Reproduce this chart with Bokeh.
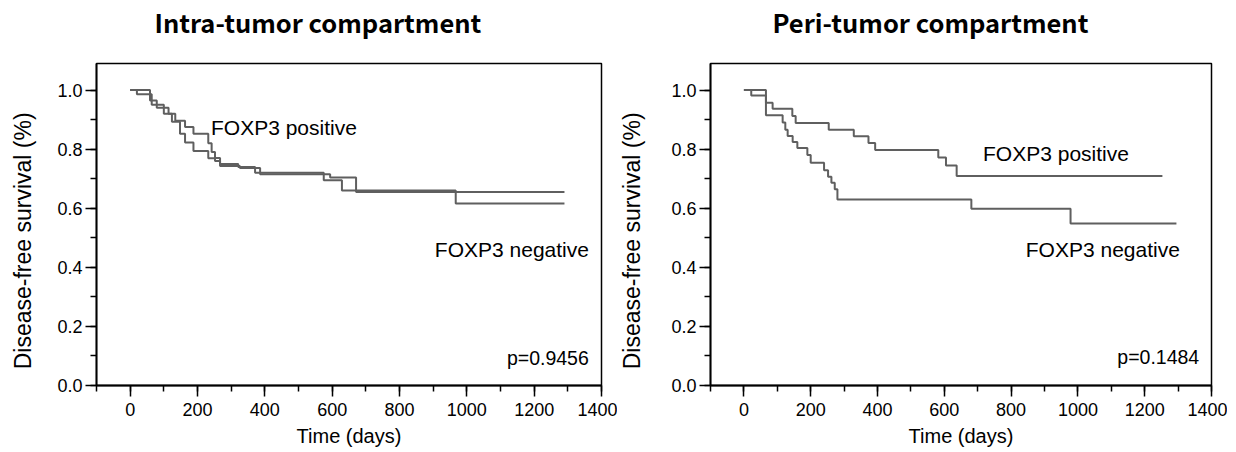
import math
from bokeh.plotting import figure
from bokeh.layouts import row, column
from bokeh.models import Label, SingleIntervalTicker, PrintfTickFormatter, Range1d
from bokeh.core.properties import value
from bokeh.embed import file_html
from bokeh.resources import INLINE

# ---- data ----
titles = ["Intra-tumor compartment", "Peri-tumor compartment"]
p_values = ["p=0.9456", "p=0.1484"]
group_labels = ["FOXP3 positive", "FOXP3 negative"]
x_label = "Time (days)"
y_label = "Disease-free survival (%)"

left_pos_t = [0, 59, 79, 114, 134, 163, 188, 232, 242, 252, 267, 326, 386, 594, 671, 1290]
left_pos_s = [1.0, 0.965, 0.94, 0.92, 0.896, 0.875, 0.852, 0.82, 0.79, 0.77, 0.743, 0.736, 0.715, 0.704, 0.655, 0.655]
left_neg_t = [0, 20, 64, 100, 124, 148, 163, 188, 232, 252, 267, 321, 371, 575, 629, 967, 1290]
left_neg_s = [1.0, 0.986, 0.95, 0.92, 0.893, 0.852, 0.823, 0.794, 0.769, 0.76, 0.75, 0.74, 0.72, 0.695, 0.66, 0.616, 0.616]

right_pos_t = [0, 66, 86, 145, 155, 254, 329, 373, 393, 582, 605, 637, 1253]
right_pos_s = [1.0, 0.957, 0.937, 0.912, 0.889, 0.866, 0.844, 0.821, 0.797, 0.772, 0.745, 0.709, 0.709]
right_neg_t = [0, 22, 66, 116, 124, 131, 146, 160, 190, 200, 240, 252, 262, 272, 280, 681, 978, 1295]
right_neg_s = [1.0, 0.982, 0.915, 0.89, 0.866, 0.845, 0.824, 0.804, 0.78, 0.754, 0.729, 0.707, 0.686, 0.664, 0.63, 0.598, 0.548, 0.548]

# label anchor positions (data units)
left_label_pos = [(240, 0.872), (905, 0.462)]
right_label_pos = [(716, 0.784), (844, 0.462)]
pval_pos = [(1119, 0.093), (1118, 0.096)]

X_START, X_END = -100, 1400
Y_START, Y_END = 0, 1.09

FONT = "Liberation Sans"
LINE_COLOR = "#5f5f5f"

TOTAL_W = 1227
TITLE_H = 58
PLOT_TOP = 5
FRAME_H = 322
PLOT_BOTTOM = 67
PLOT_H = PLOT_TOP + FRAME_H + PLOT_BOTTOM
YLAB_W = 40


def blank_fig(w, h):
    f = figure(width=w, height=h, x_range=Range1d(0, w), y_range=Range1d(h, 0),
               x_axis_type=None, y_axis_type=None, output_backend="svg",
               toolbar_location=None, min_border=0, min_border_left=0,
               min_border_right=0, min_border_top=0, min_border_bottom=0)
    f.outline_line_color = None
    f.xgrid.visible = False
    f.ygrid.visible = False
    f.background_fill_color = "white"
    f.border_fill_color = "white"
    return f


# title strip
title_fig = blank_fig(TOTAL_W, TITLE_H)
title_fig.text(x=[154, 772], y=[21, 21], text=titles,
               text_font=value("Noto Sans CJK JP"), text_font_style="bold",
               text_font_size="25.5px", text_color="black",
               text_align="left", text_baseline="alphabetic")


def ylabel_fig(cx):
    f = blank_fig(YLAB_W, PLOT_H)
    f.text(x=[cx], y=[217], text=[y_label], angle=math.pi / 2,
           text_font=value(FONT), text_font_size="23px", text_color="black",
           text_align="center", text_baseline="middle")
    return f


def make_panel(pos_t, pos_s, neg_t, neg_s, label_pos, pval, pv_pos,
               border_left, frame_w):
    p = figure(width=border_left + frame_w + 16, height=PLOT_H,
               frame_width=frame_w, frame_height=FRAME_H,
               x_range=(X_START, X_END), y_range=(Y_START, Y_END),
               output_backend="svg", toolbar_location=None,
               min_border_left=border_left, min_border_right=16,
               min_border_top=PLOT_TOP, min_border_bottom=PLOT_BOTTOM)
    p.xgrid.visible = False
    p.ygrid.visible = False
    p.outline_line_color = "black"
    p.outline_line_width = 1.5
    p.background_fill_color = "white"
    p.border_fill_color = "white"

    p.xaxis.ticker = SingleIntervalTicker(interval=200, num_minor_ticks=2)
    p.yaxis.ticker = SingleIntervalTicker(interval=0.2, num_minor_ticks=2)
    p.yaxis.formatter = PrintfTickFormatter(format="%.1f")

    for ax in (p.xaxis[0], p.yaxis[0]):
        ax.axis_line_color = "black"
        ax.axis_line_width = 1.8
        ax.major_tick_line_color = "black"
        ax.minor_tick_line_color = "black"
        ax.major_tick_line_width = 1.5
        ax.minor_tick_line_width = 1.5
        ax.major_tick_in = 0
        ax.minor_tick_in = 0
        ax.major_tick_out = 11
        ax.minor_tick_out = 6
        ax.major_label_text_font = FONT
        ax.major_label_text_font_size = "18px"
        ax.major_label_text_color = "black"
        ax.axis_label_text_font = FONT
        ax.axis_label_text_font_style = "normal"
        ax.axis_label_text_color = "black"
    p.xaxis.axis_label = x_label
    p.xaxis.axis_label_text_font_size = "20px"
    p.xaxis.major_label_standoff = 6
    p.xaxis.axis_label_standoff = 6
    p.yaxis.major_label_standoff = 3

    p.step(pos_t, pos_s, mode="after", line_color=LINE_COLOR, line_width=2)
    p.step(neg_t, neg_s, mode="after", line_color=LINE_COLOR, line_width=2)

    for (lx, ly), txt in zip(label_pos, group_labels):
        p.add_layout(Label(x=lx, y=ly, text=txt, text_font=FONT,
                           text_font_size="21px", text_color="black",
                           text_baseline="middle", text_align="left"))
    p.add_layout(Label(x=pv_pos[0], y=pv_pos[1], text=pval, text_font=FONT,
                       text_font_size="19.5px", text_color="black",
                       text_baseline="middle", text_align="left"))
    return p


p1 = make_panel(left_pos_t, left_pos_s, left_neg_t, left_neg_s,
                left_label_pos, p_values[0], pval_pos[0], 96 - YLAB_W, 505)
p2 = make_panel(right_pos_t, right_pos_s, right_neg_t, right_neg_s,
                right_label_pos, p_values[1], pval_pos[1], 93 - YLAB_W, 501)

layout = column(title_fig,
                row(ylabel_fig(22.5), p1, ylabel_fig(14), p2, spacing=0),
                spacing=0)
open("out.html", "w").write(file_html(layout, INLINE))
